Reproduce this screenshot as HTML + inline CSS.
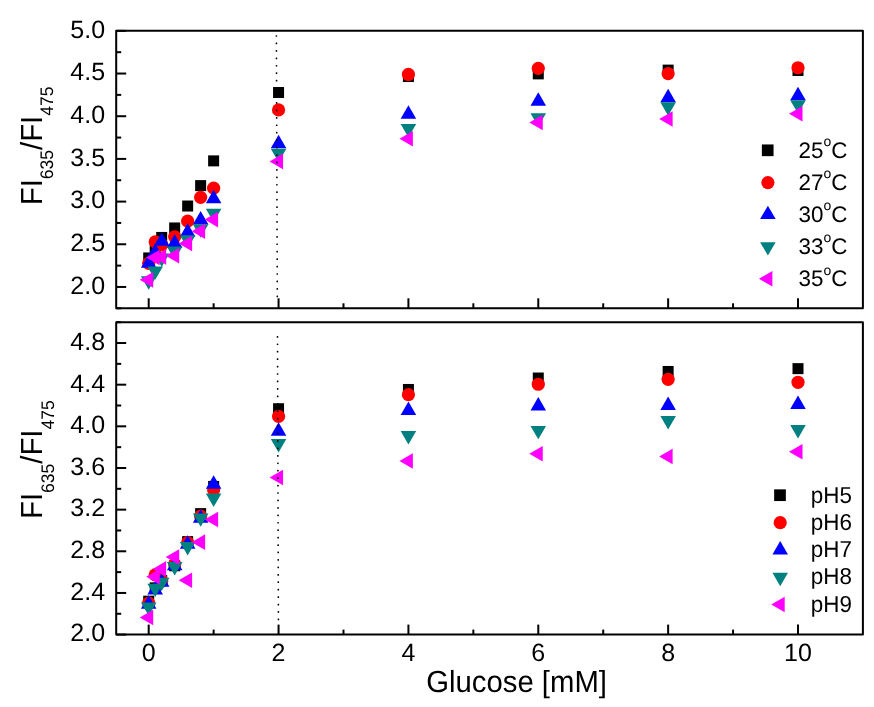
<!DOCTYPE html><html><head><meta charset="utf-8"><title>chart</title><style>html,body{margin:0;padding:0;background:#fff}svg{display:block;will-change:transform;text-rendering:geometricPrecision}text{font-family:"Liberation Sans",sans-serif;fill:#000}</style></head><body>
<svg width="874" height="707" viewBox="0 0 874 707">
<rect width="874" height="707" fill="#fff"/>
<rect x="116.2" y="30.85" width="746.70" height="277.45" fill="none" stroke="#000" stroke-width="2.0" stroke-linejoin="round"/>
<rect x="116.2" y="322.2" width="746.70" height="312.40" fill="none" stroke="#000" stroke-width="2.0" stroke-linejoin="round"/>
<line x1="116.20" y1="30.85" x2="126.20" y2="30.85" stroke="#000" stroke-width="2.0"/>
<text x="105.1" y="37.70" font-size="25" text-anchor="end">5.0</text>
<line x1="116.20" y1="52.19" x2="121.20" y2="52.19" stroke="#000" stroke-width="2.0"/>
<line x1="116.20" y1="73.53" x2="126.20" y2="73.53" stroke="#000" stroke-width="2.0"/>
<text x="105.1" y="80.38" font-size="25" text-anchor="end">4.5</text>
<line x1="116.20" y1="94.88" x2="121.20" y2="94.88" stroke="#000" stroke-width="2.0"/>
<line x1="116.20" y1="116.22" x2="126.20" y2="116.22" stroke="#000" stroke-width="2.0"/>
<text x="105.1" y="123.07" font-size="25" text-anchor="end">4.0</text>
<line x1="116.20" y1="137.56" x2="121.20" y2="137.56" stroke="#000" stroke-width="2.0"/>
<line x1="116.20" y1="158.90" x2="126.20" y2="158.90" stroke="#000" stroke-width="2.0"/>
<text x="105.1" y="165.75" font-size="25" text-anchor="end">3.5</text>
<line x1="116.20" y1="180.25" x2="121.20" y2="180.25" stroke="#000" stroke-width="2.0"/>
<line x1="116.20" y1="201.59" x2="126.20" y2="201.59" stroke="#000" stroke-width="2.0"/>
<text x="105.1" y="208.44" font-size="25" text-anchor="end">3.0</text>
<line x1="116.20" y1="222.93" x2="121.20" y2="222.93" stroke="#000" stroke-width="2.0"/>
<line x1="116.20" y1="244.27" x2="126.20" y2="244.27" stroke="#000" stroke-width="2.0"/>
<text x="105.1" y="251.12" font-size="25" text-anchor="end">2.5</text>
<line x1="116.20" y1="265.62" x2="121.20" y2="265.62" stroke="#000" stroke-width="2.0"/>
<line x1="116.20" y1="286.96" x2="126.20" y2="286.96" stroke="#000" stroke-width="2.0"/>
<text x="105.1" y="293.81" font-size="25" text-anchor="end">2.0</text>
<line x1="116.20" y1="308.30" x2="121.20" y2="308.30" stroke="#000" stroke-width="2.0"/>
<line x1="116.20" y1="322.20" x2="121.20" y2="322.20" stroke="#000" stroke-width="2.0"/>
<line x1="116.20" y1="343.03" x2="126.20" y2="343.03" stroke="#000" stroke-width="2.0"/>
<text x="105.1" y="349.88" font-size="25" text-anchor="end">4.8</text>
<line x1="116.20" y1="363.85" x2="121.20" y2="363.85" stroke="#000" stroke-width="2.0"/>
<line x1="116.20" y1="384.68" x2="126.20" y2="384.68" stroke="#000" stroke-width="2.0"/>
<text x="105.1" y="391.53" font-size="25" text-anchor="end">4.4</text>
<line x1="116.20" y1="405.51" x2="121.20" y2="405.51" stroke="#000" stroke-width="2.0"/>
<line x1="116.20" y1="426.33" x2="126.20" y2="426.33" stroke="#000" stroke-width="2.0"/>
<text x="105.1" y="433.18" font-size="25" text-anchor="end">4.0</text>
<line x1="116.20" y1="447.16" x2="121.20" y2="447.16" stroke="#000" stroke-width="2.0"/>
<line x1="116.20" y1="467.99" x2="126.20" y2="467.99" stroke="#000" stroke-width="2.0"/>
<text x="105.1" y="474.84" font-size="25" text-anchor="end">3.6</text>
<line x1="116.20" y1="488.81" x2="121.20" y2="488.81" stroke="#000" stroke-width="2.0"/>
<line x1="116.20" y1="509.64" x2="126.20" y2="509.64" stroke="#000" stroke-width="2.0"/>
<text x="105.1" y="516.49" font-size="25" text-anchor="end">3.2</text>
<line x1="116.20" y1="530.47" x2="121.20" y2="530.47" stroke="#000" stroke-width="2.0"/>
<line x1="116.20" y1="551.29" x2="126.20" y2="551.29" stroke="#000" stroke-width="2.0"/>
<text x="105.1" y="558.14" font-size="25" text-anchor="end">2.8</text>
<line x1="116.20" y1="572.12" x2="121.20" y2="572.12" stroke="#000" stroke-width="2.0"/>
<line x1="116.20" y1="592.95" x2="126.20" y2="592.95" stroke="#000" stroke-width="2.0"/>
<text x="105.1" y="599.80" font-size="25" text-anchor="end">2.4</text>
<line x1="116.20" y1="613.77" x2="121.20" y2="613.77" stroke="#000" stroke-width="2.0"/>
<line x1="116.20" y1="634.60" x2="126.20" y2="634.60" stroke="#000" stroke-width="2.0"/>
<text x="105.1" y="641.45" font-size="25" text-anchor="end">2.0</text>
<line x1="148.70" y1="298.30" x2="148.70" y2="308.30" stroke="#000" stroke-width="2.0"/>
<line x1="148.70" y1="624.60" x2="148.70" y2="634.60" stroke="#000" stroke-width="2.0"/>
<text x="148.70" y="660.5" font-size="25" text-anchor="middle">0</text>
<line x1="213.63" y1="303.30" x2="213.63" y2="308.30" stroke="#000" stroke-width="2.0"/>
<line x1="213.63" y1="629.60" x2="213.63" y2="634.60" stroke="#000" stroke-width="2.0"/>
<line x1="278.56" y1="298.30" x2="278.56" y2="308.30" stroke="#000" stroke-width="2.0"/>
<line x1="278.56" y1="624.60" x2="278.56" y2="634.60" stroke="#000" stroke-width="2.0"/>
<text x="278.56" y="660.5" font-size="25" text-anchor="middle">2</text>
<line x1="343.49" y1="303.30" x2="343.49" y2="308.30" stroke="#000" stroke-width="2.0"/>
<line x1="343.49" y1="629.60" x2="343.49" y2="634.60" stroke="#000" stroke-width="2.0"/>
<line x1="408.42" y1="298.30" x2="408.42" y2="308.30" stroke="#000" stroke-width="2.0"/>
<line x1="408.42" y1="624.60" x2="408.42" y2="634.60" stroke="#000" stroke-width="2.0"/>
<text x="408.42" y="660.5" font-size="25" text-anchor="middle">4</text>
<line x1="473.35" y1="303.30" x2="473.35" y2="308.30" stroke="#000" stroke-width="2.0"/>
<line x1="473.35" y1="629.60" x2="473.35" y2="634.60" stroke="#000" stroke-width="2.0"/>
<line x1="538.28" y1="298.30" x2="538.28" y2="308.30" stroke="#000" stroke-width="2.0"/>
<line x1="538.28" y1="624.60" x2="538.28" y2="634.60" stroke="#000" stroke-width="2.0"/>
<text x="538.28" y="660.5" font-size="25" text-anchor="middle">6</text>
<line x1="603.21" y1="303.30" x2="603.21" y2="308.30" stroke="#000" stroke-width="2.0"/>
<line x1="603.21" y1="629.60" x2="603.21" y2="634.60" stroke="#000" stroke-width="2.0"/>
<line x1="668.14" y1="298.30" x2="668.14" y2="308.30" stroke="#000" stroke-width="2.0"/>
<line x1="668.14" y1="624.60" x2="668.14" y2="634.60" stroke="#000" stroke-width="2.0"/>
<text x="668.14" y="660.5" font-size="25" text-anchor="middle">8</text>
<line x1="733.07" y1="303.30" x2="733.07" y2="308.30" stroke="#000" stroke-width="2.0"/>
<line x1="733.07" y1="629.60" x2="733.07" y2="634.60" stroke="#000" stroke-width="2.0"/>
<line x1="798.00" y1="298.30" x2="798.00" y2="308.30" stroke="#000" stroke-width="2.0"/>
<line x1="798.00" y1="624.60" x2="798.00" y2="634.60" stroke="#000" stroke-width="2.0"/>
<text x="798.00" y="660.5" font-size="25" text-anchor="middle">10</text>
<rect x="143.20" y="252.43" width="11.0" height="11.0" fill="#000000"/>
<rect x="149.69" y="244.75" width="11.0" height="11.0" fill="#000000"/>
<rect x="156.19" y="231.94" width="11.0" height="11.0" fill="#000000"/>
<rect x="169.17" y="222.47" width="11.0" height="11.0" fill="#000000"/>
<rect x="182.16" y="200.53" width="11.0" height="11.0" fill="#000000"/>
<rect x="195.14" y="180.12" width="11.0" height="11.0" fill="#000000"/>
<rect x="208.13" y="155.37" width="11.0" height="11.0" fill="#000000"/>
<rect x="273.06" y="86.99" width="11.0" height="11.0" fill="#000000"/>
<rect x="402.92" y="71.02" width="11.0" height="11.0" fill="#000000"/>
<rect x="532.78" y="68.38" width="11.0" height="11.0" fill="#000000"/>
<rect x="662.64" y="64.62" width="11.0" height="11.0" fill="#000000"/>
<rect x="792.50" y="64.96" width="11.0" height="11.0" fill="#000000"/>
<circle cx="148.70" cy="263.31" r="6.6" fill="#ff0000"/>
<circle cx="155.19" cy="241.80" r="6.6" fill="#ff0000"/>
<circle cx="161.69" cy="244.79" r="6.6" fill="#ff0000"/>
<circle cx="174.67" cy="236.76" r="6.6" fill="#ff0000"/>
<circle cx="187.66" cy="221.14" r="6.6" fill="#ff0000"/>
<circle cx="200.64" cy="197.32" r="6.6" fill="#ff0000"/>
<circle cx="213.63" cy="188.19" r="6.6" fill="#ff0000"/>
<circle cx="278.56" cy="109.90" r="6.6" fill="#ff0000"/>
<circle cx="408.42" cy="74.47" r="6.6" fill="#ff0000"/>
<circle cx="538.28" cy="68.33" r="6.6" fill="#ff0000"/>
<circle cx="668.14" cy="73.62" r="6.6" fill="#ff0000"/>
<circle cx="798.00" cy="67.73" r="6.6" fill="#ff0000"/>
<polygon points="148.70,254.34 140.92,267.79 156.47,267.79" fill="#0000ff"/>
<polygon points="155.19,243.42 147.42,256.87 162.97,256.87" fill="#0000ff"/>
<polygon points="161.69,232.40 153.91,245.85 169.46,245.85" fill="#0000ff"/>
<polygon points="174.67,234.20 166.90,247.65 182.45,247.65" fill="#0000ff"/>
<polygon points="187.66,223.27 179.88,236.72 195.43,236.72" fill="#0000ff"/>
<polygon points="200.64,210.98 192.87,224.43 208.42,224.43" fill="#0000ff"/>
<polygon points="213.63,189.72 205.85,203.17 221.41,203.17" fill="#0000ff"/>
<polygon points="278.56,134.74 270.79,148.19 286.33,148.19" fill="#0000ff"/>
<polygon points="408.42,105.20 400.65,118.65 416.19,118.65" fill="#0000ff"/>
<polygon points="538.28,92.31 530.50,105.76 546.05,105.76" fill="#0000ff"/>
<polygon points="668.14,88.73 660.37,102.18 675.92,102.18" fill="#0000ff"/>
<polygon points="798.00,86.85 790.23,100.30 805.77,100.30" fill="#0000ff"/>
<polygon points="148.70,289.78 140.92,276.33 156.47,276.33" fill="#008080"/>
<polygon points="155.19,279.87 147.42,266.42 162.97,266.42" fill="#008080"/>
<polygon points="161.69,266.90 153.91,253.45 169.46,253.45" fill="#008080"/>
<polygon points="174.67,260.07 166.90,246.62 182.45,246.62" fill="#008080"/>
<polygon points="187.66,248.72 179.88,235.27 195.43,235.27" fill="#008080"/>
<polygon points="200.64,237.79 192.87,224.34 208.42,224.34" fill="#008080"/>
<polygon points="213.63,222.25 205.85,208.80 221.41,208.80" fill="#008080"/>
<polygon points="278.56,162.24 270.79,148.79 286.33,148.79" fill="#008080"/>
<polygon points="408.42,137.39 400.65,123.94 416.19,123.94" fill="#008080"/>
<polygon points="538.28,126.64 530.50,113.19 546.05,113.19" fill="#008080"/>
<polygon points="668.14,115.71 660.37,102.26 675.92,102.26" fill="#008080"/>
<polygon points="798.00,113.58 790.23,100.13 805.77,100.13" fill="#008080"/>
<polygon points="139.73,279.87 153.18,272.10 153.18,287.65" fill="#ff00ff"/>
<polygon points="146.23,257.59 159.68,249.82 159.68,265.37" fill="#ff00ff"/>
<polygon points="152.72,256.91 166.17,249.13 166.17,264.68" fill="#ff00ff"/>
<polygon points="165.71,255.80 179.16,248.02 179.16,263.57" fill="#ff00ff"/>
<polygon points="178.69,243.42 192.14,235.64 192.14,251.19" fill="#ff00ff"/>
<polygon points="191.68,231.21 205.13,223.44 205.13,238.99" fill="#ff00ff"/>
<polygon points="204.66,219.60 218.11,211.83 218.11,227.38" fill="#ff00ff"/>
<polygon points="269.59,161.38 283.04,153.60 283.04,169.15" fill="#ff00ff"/>
<polygon points="399.45,138.67 412.90,130.90 412.90,146.45" fill="#ff00ff"/>
<polygon points="529.31,122.54 542.76,114.76 542.76,130.31" fill="#ff00ff"/>
<polygon points="659.17,119.04 672.62,111.26 672.62,126.81" fill="#ff00ff"/>
<polygon points="789.03,113.74 802.48,105.97 802.48,121.52" fill="#ff00ff"/>
<rect x="143.20" y="595.67" width="11.0" height="11.0" fill="#000000"/>
<rect x="149.69" y="582.34" width="11.0" height="11.0" fill="#000000"/>
<rect x="156.19" y="574.95" width="11.0" height="11.0" fill="#000000"/>
<rect x="169.17" y="560.27" width="11.0" height="11.0" fill="#000000"/>
<rect x="182.16" y="536.11" width="11.0" height="11.0" fill="#000000"/>
<rect x="195.14" y="508.10" width="11.0" height="11.0" fill="#000000"/>
<rect x="208.13" y="480.92" width="11.0" height="11.0" fill="#000000"/>
<rect x="273.06" y="403.23" width="11.0" height="11.0" fill="#000000"/>
<rect x="402.92" y="383.97" width="11.0" height="11.0" fill="#000000"/>
<rect x="532.78" y="372.52" width="11.0" height="11.0" fill="#000000"/>
<rect x="662.64" y="365.96" width="11.0" height="11.0" fill="#000000"/>
<rect x="792.50" y="363.14" width="11.0" height="11.0" fill="#000000"/>
<circle cx="148.70" cy="603.15" r="6.6" fill="#ff0000"/>
<circle cx="155.19" cy="574.83" r="6.6" fill="#ff0000"/>
<circle cx="161.69" cy="580.97" r="6.6" fill="#ff0000"/>
<circle cx="174.67" cy="564.41" r="6.6" fill="#ff0000"/>
<circle cx="187.66" cy="542.55" r="6.6" fill="#ff0000"/>
<circle cx="200.64" cy="516.20" r="6.6" fill="#ff0000"/>
<circle cx="213.63" cy="489.85" r="6.6" fill="#ff0000"/>
<circle cx="278.56" cy="416.44" r="6.6" fill="#ff0000"/>
<circle cx="408.42" cy="394.68" r="6.6" fill="#ff0000"/>
<circle cx="538.28" cy="384.26" r="6.6" fill="#ff0000"/>
<circle cx="668.14" cy="379.37" r="6.6" fill="#ff0000"/>
<circle cx="798.00" cy="382.28" r="6.6" fill="#ff0000"/>
<polygon points="148.70,595.33 140.92,608.78 156.47,608.78" fill="#0000ff"/>
<polygon points="155.19,581.06 147.42,594.51 162.97,594.51" fill="#0000ff"/>
<polygon points="161.69,573.36 153.91,586.81 169.46,586.81" fill="#0000ff"/>
<polygon points="174.67,556.91 166.90,570.36 182.45,570.36" fill="#0000ff"/>
<polygon points="187.66,535.35 179.88,548.80 195.43,548.80" fill="#0000ff"/>
<polygon points="200.64,509.21 192.87,522.66 208.42,522.66" fill="#0000ff"/>
<polygon points="213.63,475.26 205.85,488.71 221.41,488.71" fill="#0000ff"/>
<polygon points="278.56,422.37 270.79,435.82 286.33,435.82" fill="#0000ff"/>
<polygon points="408.42,401.54 400.65,414.99 416.19,414.99" fill="#0000ff"/>
<polygon points="538.28,397.06 530.50,410.51 546.05,410.51" fill="#0000ff"/>
<polygon points="668.14,396.54 660.37,409.99 675.92,409.99" fill="#0000ff"/>
<polygon points="798.00,395.50 790.23,408.95 805.77,408.95" fill="#0000ff"/>
<polygon points="148.70,615.87 140.92,602.42 156.47,602.42" fill="#008080"/>
<polygon points="155.19,597.12 147.42,583.67 162.97,583.67" fill="#008080"/>
<polygon points="161.69,591.08 153.91,577.63 169.46,577.63" fill="#008080"/>
<polygon points="174.67,575.46 166.90,562.01 182.45,562.01" fill="#008080"/>
<polygon points="187.66,555.57 179.88,542.12 195.43,542.12" fill="#008080"/>
<polygon points="200.64,526.83 192.87,513.38 208.42,513.38" fill="#008080"/>
<polygon points="213.63,507.05 205.85,493.60 221.41,493.60" fill="#008080"/>
<polygon points="278.56,452.48 270.79,439.03 286.33,439.03" fill="#008080"/>
<polygon points="408.42,444.46 400.65,431.01 416.19,431.01" fill="#008080"/>
<polygon points="538.28,439.36 530.50,425.91 546.05,425.91" fill="#008080"/>
<polygon points="668.14,429.47 660.37,416.02 675.92,416.02" fill="#008080"/>
<polygon points="798.00,438.53 790.23,425.08 805.77,425.08" fill="#008080"/>
<polygon points="139.73,617.52 153.18,609.75 153.18,625.30" fill="#ff00ff"/>
<polygon points="146.23,576.81 159.68,569.03 159.68,584.58" fill="#ff00ff"/>
<polygon points="152.72,568.89 166.17,561.12 166.17,576.67" fill="#ff00ff"/>
<polygon points="165.71,557.12 179.16,549.35 179.16,564.90" fill="#ff00ff"/>
<polygon points="178.69,580.24 192.14,572.47 192.14,588.02" fill="#ff00ff"/>
<polygon points="191.68,542.13 205.13,534.35 205.13,549.90" fill="#ff00ff"/>
<polygon points="204.66,519.43 218.11,511.65 218.11,527.20" fill="#ff00ff"/>
<polygon points="269.59,477.57 283.04,469.79 283.04,485.34" fill="#ff00ff"/>
<polygon points="399.45,460.91 412.90,453.13 412.90,468.68" fill="#ff00ff"/>
<polygon points="529.31,453.72 542.76,445.95 542.76,461.50" fill="#ff00ff"/>
<polygon points="659.17,456.53 672.62,448.76 672.62,464.31" fill="#ff00ff"/>
<polygon points="789.03,451.74 802.48,443.97 802.48,459.52" fill="#ff00ff"/>
<rect x="275.60" y="35.15" width="1.6" height="1.7" rx="0.5" fill="#000"/><rect x="275.63" y="42.59" width="1.6" height="1.7" rx="0.5" fill="#000"/><rect x="275.65" y="50.02" width="1.6" height="1.7" rx="0.5" fill="#000"/><rect x="275.68" y="57.46" width="1.6" height="1.7" rx="0.5" fill="#000"/><rect x="275.70" y="64.90" width="1.6" height="1.7" rx="0.5" fill="#000"/><rect x="275.73" y="72.33" width="1.6" height="1.7" rx="0.5" fill="#000"/><rect x="275.75" y="79.77" width="1.6" height="1.7" rx="0.5" fill="#000"/><rect x="275.78" y="87.21" width="1.6" height="1.7" rx="0.5" fill="#000"/><rect x="275.81" y="94.65" width="1.6" height="1.7" rx="0.5" fill="#000"/><rect x="275.83" y="102.08" width="1.6" height="1.7" rx="0.5" fill="#000"/><rect x="275.86" y="109.52" width="1.6" height="1.7" rx="0.5" fill="#000"/><rect x="275.88" y="116.96" width="1.6" height="1.7" rx="0.5" fill="#000"/><rect x="275.91" y="124.39" width="1.6" height="1.7" rx="0.5" fill="#000"/><rect x="275.93" y="131.83" width="1.6" height="1.7" rx="0.5" fill="#000"/><rect x="275.96" y="139.27" width="1.6" height="1.7" rx="0.5" fill="#000"/><rect x="275.99" y="146.71" width="1.6" height="1.7" rx="0.5" fill="#000"/><rect x="276.01" y="154.14" width="1.6" height="1.7" rx="0.5" fill="#000"/><rect x="276.04" y="161.58" width="1.6" height="1.7" rx="0.5" fill="#000"/><rect x="276.06" y="169.02" width="1.6" height="1.7" rx="0.5" fill="#000"/><rect x="276.09" y="176.45" width="1.6" height="1.7" rx="0.5" fill="#000"/><rect x="276.11" y="183.89" width="1.6" height="1.7" rx="0.5" fill="#000"/><rect x="276.14" y="191.33" width="1.6" height="1.7" rx="0.5" fill="#000"/><rect x="276.17" y="198.76" width="1.6" height="1.7" rx="0.5" fill="#000"/><rect x="276.19" y="206.20" width="1.6" height="1.7" rx="0.5" fill="#000"/><rect x="276.22" y="213.64" width="1.6" height="1.7" rx="0.5" fill="#000"/><rect x="276.24" y="221.08" width="1.6" height="1.7" rx="0.5" fill="#000"/><rect x="276.27" y="228.51" width="1.6" height="1.7" rx="0.5" fill="#000"/><rect x="276.29" y="235.95" width="1.6" height="1.7" rx="0.5" fill="#000"/><rect x="276.32" y="243.39" width="1.6" height="1.7" rx="0.5" fill="#000"/><rect x="276.35" y="250.82" width="1.6" height="1.7" rx="0.5" fill="#000"/><rect x="276.37" y="258.26" width="1.6" height="1.7" rx="0.5" fill="#000"/><rect x="276.40" y="265.70" width="1.6" height="1.7" rx="0.5" fill="#000"/><rect x="276.42" y="273.13" width="1.6" height="1.7" rx="0.5" fill="#000"/><rect x="276.45" y="280.57" width="1.6" height="1.7" rx="0.5" fill="#000"/><rect x="276.47" y="288.01" width="1.6" height="1.7" rx="0.5" fill="#000"/><rect x="276.50" y="295.45" width="1.6" height="1.7" rx="0.5" fill="#000"/>
<rect x="276.70" y="335.95" width="1.6" height="1.7" rx="0.5" fill="#000"/><rect x="276.72" y="343.39" width="1.6" height="1.7" rx="0.5" fill="#000"/><rect x="276.75" y="350.82" width="1.6" height="1.7" rx="0.5" fill="#000"/><rect x="276.77" y="358.26" width="1.6" height="1.7" rx="0.5" fill="#000"/><rect x="276.79" y="365.70" width="1.6" height="1.7" rx="0.5" fill="#000"/><rect x="276.82" y="373.14" width="1.6" height="1.7" rx="0.5" fill="#000"/><rect x="276.84" y="380.57" width="1.6" height="1.7" rx="0.5" fill="#000"/><rect x="276.87" y="388.01" width="1.6" height="1.7" rx="0.5" fill="#000"/><rect x="276.89" y="395.45" width="1.6" height="1.7" rx="0.5" fill="#000"/><rect x="276.91" y="402.88" width="1.6" height="1.7" rx="0.5" fill="#000"/><rect x="276.94" y="410.32" width="1.6" height="1.7" rx="0.5" fill="#000"/><rect x="276.96" y="417.76" width="1.6" height="1.7" rx="0.5" fill="#000"/><rect x="276.98" y="425.19" width="1.6" height="1.7" rx="0.5" fill="#000"/><rect x="277.01" y="432.63" width="1.6" height="1.7" rx="0.5" fill="#000"/><rect x="277.03" y="440.07" width="1.6" height="1.7" rx="0.5" fill="#000"/><rect x="277.06" y="447.51" width="1.6" height="1.7" rx="0.5" fill="#000"/><rect x="277.08" y="454.94" width="1.6" height="1.7" rx="0.5" fill="#000"/><rect x="277.10" y="462.38" width="1.6" height="1.7" rx="0.5" fill="#000"/><rect x="277.13" y="469.82" width="1.6" height="1.7" rx="0.5" fill="#000"/><rect x="277.15" y="477.25" width="1.6" height="1.7" rx="0.5" fill="#000"/><rect x="277.17" y="484.69" width="1.6" height="1.7" rx="0.5" fill="#000"/><rect x="277.20" y="492.13" width="1.6" height="1.7" rx="0.5" fill="#000"/><rect x="277.22" y="499.56" width="1.6" height="1.7" rx="0.5" fill="#000"/><rect x="277.24" y="507.00" width="1.6" height="1.7" rx="0.5" fill="#000"/><rect x="277.27" y="514.44" width="1.6" height="1.7" rx="0.5" fill="#000"/><rect x="277.29" y="521.88" width="1.6" height="1.7" rx="0.5" fill="#000"/><rect x="277.32" y="529.31" width="1.6" height="1.7" rx="0.5" fill="#000"/><rect x="277.34" y="536.75" width="1.6" height="1.7" rx="0.5" fill="#000"/><rect x="277.36" y="544.19" width="1.6" height="1.7" rx="0.5" fill="#000"/><rect x="277.39" y="551.62" width="1.6" height="1.7" rx="0.5" fill="#000"/><rect x="277.41" y="559.06" width="1.6" height="1.7" rx="0.5" fill="#000"/><rect x="277.43" y="566.50" width="1.6" height="1.7" rx="0.5" fill="#000"/><rect x="277.46" y="573.93" width="1.6" height="1.7" rx="0.5" fill="#000"/><rect x="277.48" y="581.37" width="1.6" height="1.7" rx="0.5" fill="#000"/><rect x="277.50" y="588.81" width="1.6" height="1.7" rx="0.5" fill="#000"/><rect x="277.53" y="596.25" width="1.6" height="1.7" rx="0.5" fill="#000"/><rect x="277.55" y="603.68" width="1.6" height="1.7" rx="0.5" fill="#000"/><rect x="277.58" y="611.12" width="1.6" height="1.7" rx="0.5" fill="#000"/><rect x="277.60" y="618.56" width="1.6" height="1.7" rx="0.5" fill="#000"/>
<rect x="761.85" y="144.45" width="11.7" height="11.7" fill="#000000"/>
<text transform="translate(798.5,157.50) scale(1,1.0)" font-size="22.4">25<tspan font-size="14" dy="-11.2">o</tspan><tspan dy="11.2">C</tspan></text>
<circle cx="767.90" cy="182.55" r="6.6" fill="#ff0000"/>
<text transform="translate(798.5,189.55) scale(1,1.0)" font-size="22.4">27<tspan font-size="14" dy="-11.2">o</tspan><tspan dy="11.2">C</tspan></text>
<polygon points="767.90,205.63 760.12,219.08 775.67,219.08" fill="#0000ff"/>
<text transform="translate(798.5,221.60) scale(1,1.0)" font-size="22.4">30<tspan font-size="14" dy="-11.2">o</tspan><tspan dy="11.2">C</tspan></text>
<polygon points="767.90,255.62 760.12,242.17 775.67,242.17" fill="#008080"/>
<text transform="translate(798.5,253.65) scale(1,1.0)" font-size="22.4">33<tspan font-size="14" dy="-11.2">o</tspan><tspan dy="11.2">C</tspan></text>
<polygon points="758.93,278.70 772.38,270.93 772.38,286.47" fill="#ff00ff"/>
<text transform="translate(798.5,285.70) scale(1,1.0)" font-size="22.4">35<tspan font-size="14" dy="-11.2">o</tspan><tspan dy="11.2">C</tspan></text>
<rect x="774.15" y="489.35" width="11.7" height="11.7" fill="#000000"/>
<text transform="translate(810.8,502.60) scale(1,1.03)" font-size="22.4">pH5</text>
<circle cx="780.20" cy="522.68" r="6.6" fill="#ff0000"/>
<text transform="translate(810.8,529.88) scale(1,1.03)" font-size="22.4">pH6</text>
<polygon points="780.20,540.99 772.43,554.44 787.98,554.44" fill="#0000ff"/>
<text transform="translate(810.8,557.16) scale(1,1.03)" font-size="22.4">pH7</text>
<polygon points="780.20,586.21 772.43,572.76 787.98,572.76" fill="#008080"/>
<text transform="translate(810.8,584.44) scale(1,1.03)" font-size="22.4">pH8</text>
<polygon points="771.23,604.52 784.68,596.75 784.68,612.29" fill="#ff00ff"/>
<text transform="translate(810.8,611.72) scale(1,1.03)" font-size="22.4">pH9</text>
<text transform="translate(41.5,205.2) rotate(-90) scale(1,1.04)" font-size="29.3">FI<tspan font-size="17.5" dy="11.2">635</tspan><tspan dy="-11.2">/FI</tspan><tspan font-size="17.5" dy="11.2">475</tspan></text>
<text transform="translate(42.2,519.0) rotate(-90) scale(1,1.04)" font-size="29.3">FI<tspan font-size="17.5" dy="11.2">635</tspan><tspan dy="-11.2">/FI</tspan><tspan font-size="17.5" dy="11.2">475</tspan></text>
<text transform="translate(516.6,691.9) scale(1,1.04)" font-size="29.3" text-anchor="middle">Glucose [mM]</text>
</svg></body></html>
